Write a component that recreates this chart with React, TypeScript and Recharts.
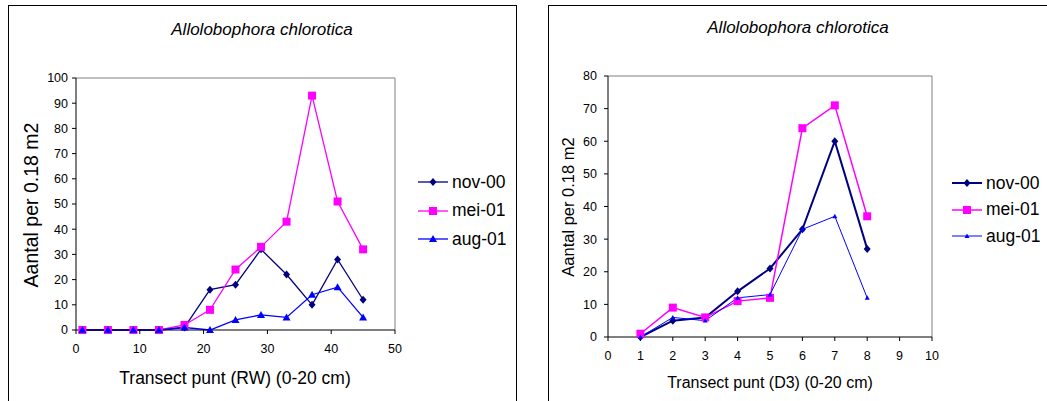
import React from 'react';
import { LineChart, Line, XAxis, YAxis, ReferenceLine, Legend } from 'recharts';

// Transect RW (linker grafiek)
const rwPunten = [1, 5, 9, 13, 17, 21, 25, 29, 33, 37, 41, 45];
const rwNov00 = [0, 0, 0, 0, 1, 16, 18, 32, 22, 10, 28, 12];
const rwMei01 = [0, 0, 0, 0, 2, 8, 24, 33, 43, 93, 51, 32];
const rwAug01 = [0, 0, 0, 0, 1, 0, 4, 6, 5, 14, 17, 5];
const rwXTicks = [0, 10, 20, 30, 40, 50];
const rwYTicks = [0, 10, 20, 30, 40, 50, 60, 70, 80, 90, 100];

// Transect D3 (rechter grafiek)
const d3Punten = [1, 2, 3, 4, 5, 6, 7, 8];
const d3Nov00 = [0, 5, 6, 14, 21, 33, 60, 27];
const d3Mei01 = [1, 9, 6, 11, 12, 64, 71, 37];
const d3Aug01 = [0, 6, 5, 12, 13, 33, 37, 12];
const d3XTicks = [0, 1, 2, 3, 4, 5, 6, 7, 8, 9, 10];
const d3YTicks = [0, 10, 20, 30, 40, 50, 60, 70, 80];

const seriesNames = ['nov-00', 'mei-01', 'aug-01'];
const FONT = '"Liberation Sans", Arial, sans-serif';

type Shape = 'diamond' | 'square' | 'triangle';

interface Serie {
  key: string;
  name: string;
  color: string;
  shape: Shape;
  size: number;
  width: number;
}

const Marker = ({ shape, cx, cy, size, color }: any) => {
  const h = size / 2;
  if (shape === 'diamond') {
    return <polygon points={`${cx},${cy - h - 0.5} ${cx + h},${cy} ${cx},${cy + h + 0.5} ${cx - h},${cy}`} fill={color} />;
  }
  if (shape === 'square') {
    return <rect x={cx - h} y={cy - h} width={size} height={size} fill={color} />;
  }
  return <polygon points={`${cx},${cy - h} ${cx + h},${cy + h * 0.75} ${cx - h},${cy + h * 0.75}`} fill={color} />;
};

const buildRows = (xs: number[], a: number[], b: number[], c: number[]) =>
  xs.map((x, i) => ({ x, nov: a[i], mei: b[i], aug: c[i] }));

interface PanelProps {
  left: number;
  width: number;
  data: any[];
  series: Serie[];
  margin: { top: number; right: number; bottom: number; left: number };
  yAxisWidth: number;
  xTicks: number[];
  yTicks: number[];
  yTickMargin: number;
  title: { x: number; y: number };
  xLabel: { text: string; x: number; y: number; size: number };
  yLabel: { x: number; y: number; size: number };
  legend: { x: number; y: number; row: number };
}

const Panel = (p: PanelProps) => {
  const xMax = p.xTicks[p.xTicks.length - 1];
  const yMax = p.yTicks[p.yTicks.length - 1];

  const renderLegend = () => (
    <div style={{ fontFamily: FONT, fontSize: 17.5, color: '#000' }}>
      {p.series.map((s) => (
        <div key={s.key} style={{ height: p.legend.row, display: 'flex', alignItems: 'center' }}>
          <svg width={30} height={14} style={{ marginRight: 4 }}>
            <line x1={0} y1={7} x2={30} y2={7} stroke={s.color} strokeWidth={s.width} />
            <Marker shape={s.shape} cx={15} cy={7} size={s.size} color={s.color} />
          </svg>
          <span>{s.name}</span>
        </div>
      ))}
    </div>
  );

  return (
    <div style={{ position: 'absolute', left: p.left, top: 0, width: p.width, height: 401 }}>
      <div
        style={{
          position: 'absolute',
          left: 0,
          width: p.width,
          top: p.title.y - 10,
          textAlign: 'center',
          fontStyle: 'italic',
          fontSize: 17,
        }}
      >
        <span style={{ position: 'absolute', left: p.title.x, transform: 'translateX(-50%)', whiteSpace: 'nowrap' }}>
          Allolobophora chlorotica
        </span>
      </div>
      <LineChart width={p.width} height={401} data={p.data} margin={p.margin}>
        <XAxis
          dataKey="x"
          type="number"
          domain={[0, xMax]}
          ticks={p.xTicks}
          interval={0}
          height={30}
          tickSize={4}
          tickMargin={10}
          stroke="#000"
          tick={{ fill: '#000', fontSize: 12.5 }}
        />
        <YAxis
          type="number"
          domain={[0, yMax]}
          ticks={p.yTicks}
          interval={0}
          width={p.yAxisWidth}
          tickSize={4}
          tickMargin={p.yTickMargin}
          stroke="#000"
          tick={{ fill: '#000', fontSize: 12.5 }}
        />
        <ReferenceLine y={yMax} stroke="#808080" />
        <ReferenceLine x={xMax} stroke="#808080" />
        {p.series.map((s) => (
          <Line
            key={s.key}
            dataKey={s.key}
            name={s.name}
            type="linear"
            stroke={s.color}
            strokeWidth={s.width}
            isAnimationActive={false}
            activeDot={false}
            dot={(d: any) => (
              <Marker key={`${s.key}-${d.index}`} shape={s.shape} cx={d.cx} cy={d.cy} size={s.size} color={s.color} />
            )}
          />
        ))}
        <Legend
          layout="vertical"
          align="center"
          verticalAlign="middle"
          wrapperStyle={{ left: p.legend.x, top: p.legend.y, width: 110 }}
          content={renderLegend}
        />
      </LineChart>
      <div
        style={{
          position: 'absolute',
          left: p.xLabel.x,
          top: p.xLabel.y,
          transform: 'translate(-50%, -50%)',
          fontSize: p.xLabel.size,
          whiteSpace: 'nowrap',
        }}
      >
        {p.xLabel.text}
      </div>
      <div
        style={{
          position: 'absolute',
          left: p.yLabel.x,
          top: p.yLabel.y,
          transform: 'translate(-50%, -50%) rotate(-90deg)',
          fontSize: p.yLabel.size,
          whiteSpace: 'nowrap',
        }}
      >
        Aantal per 0.18 m2
      </div>
    </div>
  );
};

const rwSeries: Serie[] = [
  { key: 'nov', name: seriesNames[0], color: '#000080', shape: 'diamond', size: 7, width: 1.3 },
  { key: 'mei', name: seriesNames[1], color: '#FF00FF', shape: 'square', size: 8, width: 1.3 },
  { key: 'aug', name: seriesNames[2], color: '#0000FF', shape: 'triangle', size: 8, width: 1.3 },
];

const d3Series: Serie[] = [
  { key: 'nov', name: seriesNames[0], color: '#000080', shape: 'diamond', size: 7, width: 2 },
  { key: 'mei', name: seriesNames[1], color: '#FF00FF', shape: 'square', size: 8, width: 1.5 },
  { key: 'aug', name: seriesNames[2], color: '#0000FF', shape: 'triangle', size: 5, width: 1 },
];

export default function App() {
  return (
    <div
      style={{
        position: 'absolute',
        left: 0,
        top: 0,
        width: 1047,
        height: 401,
        overflow: 'hidden',
        background: '#fff',
        fontFamily: FONT,
        color: '#000',
      }}
    >
      <div style={{ position: 'absolute', left: 8, top: 5, width: 507, height: 420, border: '1px solid #000' }} />
      <div style={{ position: 'absolute', left: 548, top: 5, width: 520, height: 420, border: '1px solid #000' }} />
      <Panel
        left={0}
        width={520}
        data={buildRows(rwPunten, rwNov00, rwMei01, rwAug01)}
        series={rwSeries}
        margin={{ top: 78, right: 125, bottom: 41, left: 0 }}
        yAxisWidth={76}
        xTicks={rwXTicks}
        yTicks={rwYTicks}
        yTickMargin={4}
        title={{ x: 262, y: 30 }}
        xLabel={{ text: 'Transect punt (RW) (0-20 cm)', x: 235, y: 378, size: 17.5 }}
        yLabel={{ x: 31, y: 205, size: 19.5 }}
        legend={{ x: 418, y: 168, row: 28.5 }}
      />
      <Panel
        left={520}
        width={527}
        data={buildRows(d3Punten, d3Nov00, d3Mei01, d3Aug01)}
        series={d3Series}
        margin={{ top: 76, right: 115, bottom: 34, left: 28 }}
        yAxisWidth={60}
        xTicks={d3XTicks}
        yTicks={d3YTicks}
        yTickMargin={7}
        title={{ x: 278, y: 28 }}
        xLabel={{ text: 'Transect punt (D3) (0-20 cm)', x: 250, y: 383, size: 16 }}
        yLabel={{ x: 48, y: 207, size: 16.5 }}
        legend={{ x: 432, y: 170, row: 26.5 }}
      />
    </div>
  );
}
